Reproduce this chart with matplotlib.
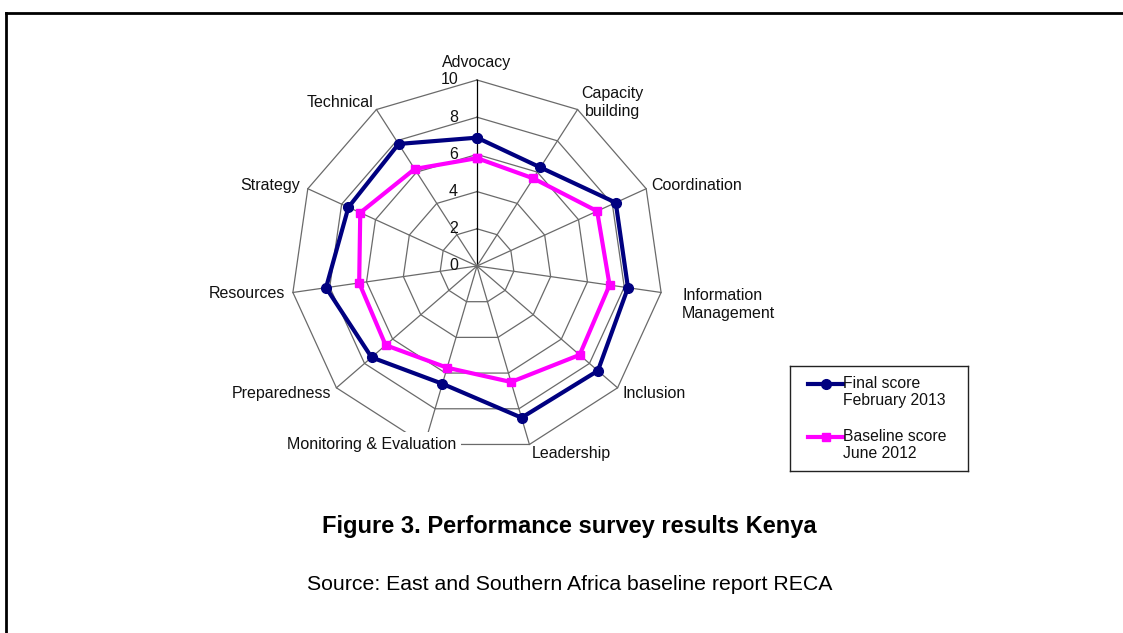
import numpy as np
import matplotlib
matplotlib.use("Agg")
import matplotlib.pyplot as plt
from matplotlib.lines import Line2D

plt.rcParams['font.family'] = ['Liberation Sans', 'DejaVu Sans']

# data
categories = ["Advocacy", "Capacity\nbuilding", "Coordination", "Information\nManagement", "Inclusion",
              "Leadership", "Monitoring & Evaluation", "Preparedness", "Resources", "Strategy", "Technical"]
final_score = [6.9, 6.3, 8.2, 8.2, 8.6, 8.5, 6.6, 7.5, 8.2, 7.6, 7.8]
baseline_score = [5.8, 5.6, 7.1, 7.2, 7.3, 6.5, 5.7, 6.5, 6.4, 6.9, 6.2]
rings = [2, 4, 6, 8, 10]
tick_values = [0, 2, 4, 6, 8, 10]
series_names = ["Final score\nFebruary 2013", "Baseline score\nJune 2012"]

W, H = 1123, 633
fig = plt.figure(figsize=(W/100, H/100), dpi=100)

# page border (top + left)
fig.add_artist(Line2D([6/W, 1], [1-13/H, 1-13/H], color='black', lw=2))
fig.add_artist(Line2D([6/W, 6/W], [0, 1-13/H], color='black', lw=2))

cx, cy, R = 477, 266, 186
ax = fig.add_axes([(cx-R)/W, (H-cy-R)/H, 2*R/W, 2*R/H], projection='polar')
ax.set_theta_zero_location('N')
ax.set_theta_direction(-1)
ax.set_ylim(0, 10)
ax.set_axis_off()

n = len(categories)
ang = np.arange(n) * 2*np.pi/n
ang_c = np.append(ang, ang[0])

for r in rings:
	ax.plot(ang_c, [r]*(n+1), color='#6a6a6a', lw=0.9, zorder=1, clip_on=False)
for i, a in enumerate(ang):
	ax.plot([a, a], [0, 10], color='black' if i == 0 else '#6a6a6a', lw=0.9, zorder=1, clip_on=False)

ax.plot(ang_c, final_score + final_score[:1], color='#000080', lw=3, marker='o', ms=7, zorder=3, clip_on=False)
ax.plot(ang_c, baseline_score + baseline_score[:1], color='#FF00FF', lw=3, marker='s', ms=6.3, zorder=4, clip_on=False)

for v in tick_values:
	ax.annotate(str(v), xy=(0, v), xytext=(-19, 0), textcoords='offset pixels', ha='right', va='center',
				fontsize=11.5, color='#111111', zorder=5)

# label offsets in pixels from the spoke ends
offs = [(0, 18), (4, 7), (5, 3), (21, -12), (5, -6), (2, -9), (32, 0), (-5, -6), (-8, -1), (-8, 3), (-3, 7)]
ha_l = ['center', 'left', 'left', 'left', 'left', 'left', 'right', 'right', 'right', 'right', 'right']
for i, name in enumerate(categories):
	bb = None
	if i == 6: bb = dict(boxstyle='square,pad=0.3', fc='white', ec='none')
	ax.annotate(name, xy=(ang[i], 10), xytext=offs[i], textcoords='offset pixels', ha=ha_l[i], va='center',
				multialignment='center' if i == 1 else 'left', fontsize=11.5, color='#111111',
				bbox=bb, zorder=6, annotation_clip=False)

# legend box
lg = fig.add_axes([790/W, 1-471/H, 178/W, 105/H])
lg.set_xlim(0, 178)
lg.set_ylim(105, 0)
lg.set_xticks([])
lg.set_yticks([])
for s in lg.spines.values():
	s.set_linewidth(1)
	s.set_color('#222222')
styles = [('#000080', 'o', 7), ('#FF00FF', 's', 6.3)]
for k, (name, (c, m, ms)) in enumerate(zip(series_names, styles)):
	y = 18 + 53*k
	lg.plot([18, 53], [y, y], color=c, lw=3)
	lg.plot([35.5], [y], color=c, marker=m, ms=ms)
	lg.text(53, y - 8, name, ha='left', va='top', fontsize=11.3, color='#111111', linespacing=1.2)

fig.text(569.5/W, 1-526/H, "Figure 3. Performance survey results Kenya", ha='center', va='center',
		 fontsize=17, fontweight='bold')
fig.text(569.5/W, 1-585/H, "Source: East and Southern Africa baseline report RECA", ha='center', va='center',
		 fontsize=15.3)

fig.savefig("out.png", dpi=100)
